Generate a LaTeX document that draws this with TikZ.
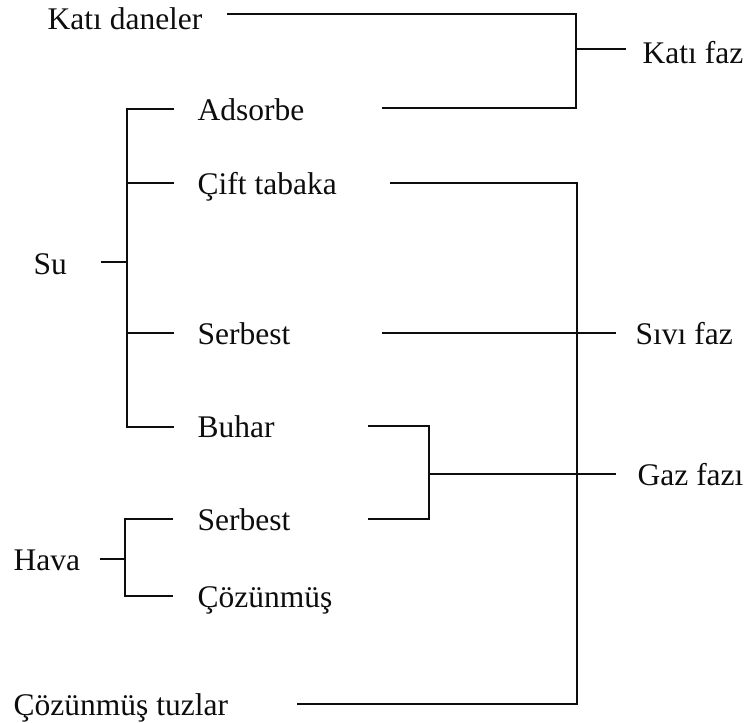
\documentclass[tikz,border=0pt]{standalone}
\usepackage{fontspec}
\setmainfont{Liberation Serif}
\usetikzlibrary{positioning}
\definecolor{mainBlack}{gray}{0.05}

\begin{document}
\begin{tikzpicture}[x=0.5pt, y=-0.5pt, line width=0.65pt, mainBlack]
    \tikzset{lbl/.style={anchor=base west, inner sep=0pt, text=mainBlack, font=\fontsize{15.75}{18}\selectfont}}
    \useasboundingbox (0,0) rectangle (747,722);

    % left column
    \node[lbl] (kd) at (47,30) {Katı daneler};
    \node[lbl] (su) at (33,274) {Su};
    \node[lbl] (hv) at (13,570) {Hava};
    \node[lbl] (ct) at (13,715) {Çözünmüş tuzlar};

    % middle column
    \node[lbl] (ad) at (197,120) {Adsorbe};
    \node[lbl] (cf) at (197,194) {Çift tabaka};
    \node[lbl] (sb) at (197,344) {Serbest};
    \node[lbl] (bh) at (197,437) {Buhar};
    \node[lbl] (hs) at (197,530) {Serbest};
    \node[lbl] (cz) at (197,607) {Çözünmüş};

    % right column
    \node[lbl] (kf) at (642,63) {Katı faz};
    \node[lbl] (sf) at (635,344) {Sıvı faz};
    \node[lbl] (gf) at (637,485) {Gaz fazı};

    % Su branches
    \coordinate (S0) at (101,262);
    \coordinate (S1) at (127,262);
    \draw (S0) -- (S1);
    \draw (174,109) -- (127,109) -- (127,427) -- (174,427);
    \foreach \y in {183,333} \draw (127,\y) -- (174,\y);

    % Hava branches
    \coordinate (H0) at (100,559);
    \coordinate (H1) at (125,559);
    \draw (H0) -- (H1);
    \draw (173,519) -- (125,519) -- (125,596) -- (173,596);

    % Katı faz
    \coordinate (K1) at (227,14);
    \coordinate (K2) at (576,14);
    \coordinate (K3) at (576,108);
    \coordinate (K4) at (382,108);
    \coordinate (K5) at (576,49);
    \coordinate (K6) at (626,49);
    \draw (K1) -- (K2) -- (K3) -- (K4);
    \draw (K5) -- (K6);

    % Sıvı faz
    \coordinate (L1) at (390,183);
    \coordinate (L2) at (577,183);
    \coordinate (L3) at (577,704);
    \coordinate (L4) at (297,704);
    \draw (L1) -- (L2) -- (L3) -- (L4);
    \coordinate (L5) at (382,333);
    \coordinate (L6) at (616,333);
    \draw (L5) -- (L6);

    % Gaz fazı
    \coordinate (G1) at (368,426);
    \coordinate (G2) at (429,426);
    \coordinate (G3) at (429,519);
    \coordinate (G4) at (368,519);
    \coordinate (G5) at (429,474);
    \coordinate (G6) at (616,474);
    \draw (G1) -- (G2) -- (G3) -- (G4);
    \draw (G5) -- (G6);
\end{tikzpicture}
\end{document}
